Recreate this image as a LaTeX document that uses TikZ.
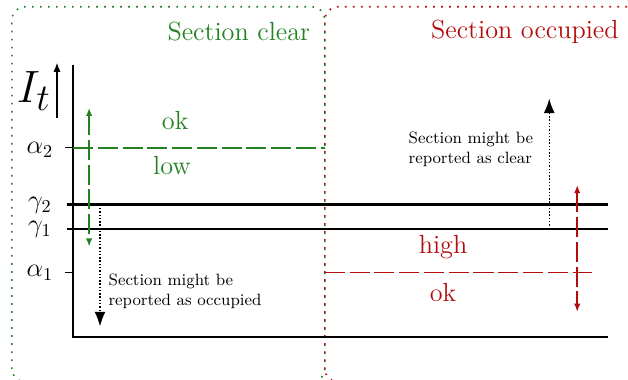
\documentclass[tikz,border=0pt]{standalone}
\usetikzlibrary{arrows.meta}

\definecolor{clrgreen}{RGB}{34,130,34}
\definecolor{occred}{RGB}{180,12,12}

\tikzset{
  level/.style = {line width=1.6pt},
  band/.style = {dash pattern=on 11pt off 2.6pt, line width=1pt},
  zone/.style = {dash pattern=on 0.9pt off 3.5pt, line width=0.9pt, rounded corners=0.25cm},
  hint/.style = {densely dotted, thick, -{Latex[length=8pt,width=6pt]}},
  swing/.style = {band, {Latex[length=4.5pt,width=3.5pt]}-{Latex[length=4.5pt,width=3.5pt]}},
}

\begin{document}
\begin{tikzpicture}
    \useasboundingbox (-1.41,-0.83) rectangle (10.71,6.50);
    \clip (-1.41,-0.83) rectangle (10.71,6.50);

    % the two zones
    \draw[zone, clrgreen] (-1.18,-0.87) rectangle (4.86,6.37);
    \draw[zone, occred] (4.86,-0.87) rectangle (11.2,6.37);
    \node[clrgreen] (clear) at (3.20, 5.89) {\Large Section clear};
    \node[occred] (occupied) at (8.72, 5.89) {\Large Section occupied};

    % axes
    \coordinate (o) at (0, 0);
    \coordinate (top) at (0, 5.25);
    \coordinate (end) at (10.33, 0);
    \draw[thick] (top) -- (o) -- (end);
    \node (It) at (-0.76, 4.74) {\Huge $I_t$};
    \coordinate (up0) at (-0.31, 4.23);
    \coordinate (up1) at (-0.31, 5.29);
    \draw[thick, -{Latex[length=5pt,width=4pt]}] (up0) -- (up1);

    % thresholds
    \coordinate (a2l) at (-0.16, 3.65);
    \coordinate (a2r) at (0, 3.65);
    \coordinate (a1l) at (-0.16, 1.24);
    \coordinate (a1r) at (0, 1.24);
    \draw[thick] (a2l) -- (a2r);
    \draw[thick] (a1l) -- (a1r);
    \node (a2) at (-0.64, 3.60) {\Large $\alpha_2$};
    \node (a1) at (-0.64, 1.24) {\Large $\alpha_1$};

    \coordinate (g2l) at (-0.12, 2.55);
    \coordinate (g2r) at (10.33, 2.55);
    \coordinate (g1l) at (-0.12, 2.08);
    \coordinate (g1r) at (10.33, 2.08);
    \draw[level] (g2l) -- (g2r);
    \draw[level] (g1l) -- (g1r);
    \node (g2) at (-0.64, 2.53) {\Large $\gamma_2$};
    \node (g1) at (-0.64, 2.07) {\Large $\gamma_1$};

    % clear side
    \coordinate (lowend) at (4.86, 3.65);
    \draw[band, clrgreen] (a2r) -- (lowend);
    \node[clrgreen] (okc) at (1.97, 4.17) {\Large ok};
    \node[clrgreen] (low) at (1.91, 3.30) {\Large low};
    \coordinate (sw0) at (0.31, 4.42);
    \coordinate (sw1) at (0.31, 1.74);
    \draw[swing, clrgreen] (sw0) -- (sw1);

    \coordinate (fo0) at (0.52, 2.55);
    \coordinate (fo1) at (0.52, 0.20);
    \draw[hint] (fo0) -- (fo1);
    \node[anchor=west, align=left, font=\small, inner sep=0pt] (falseocc) at (0.68, 0.87)
      {Section might be\\ reported as occupied};

    % occupied side
    \coordinate (highbeg) at (4.86, 1.24);
    \coordinate (highend) at (10.02, 1.24);
    \draw[band, occred] (highbeg) -- (highend);
    \node[occred] (high) at (7.14, 1.74) {\Large high};
    \node[occred] (oko) at (7.14, 0.85) {\Large ok};
    \coordinate (sr0) at (9.73, 2.93);
    \coordinate (sr1) at (9.73, 0.48);
    \draw[swing, occred] (sr0) -- (sr1);

    \coordinate (fc0) at (9.19, 2.08);
    \coordinate (fc1) at (9.19, 4.60);
    \draw[hint] (fc0) -- (fc1);
    \node[anchor=west, align=left, font=\small, inner sep=0pt] (falseclr) at (6.47, 3.61)
      {Section might be\\ reported as clear};
\end{tikzpicture}
\end{document}
